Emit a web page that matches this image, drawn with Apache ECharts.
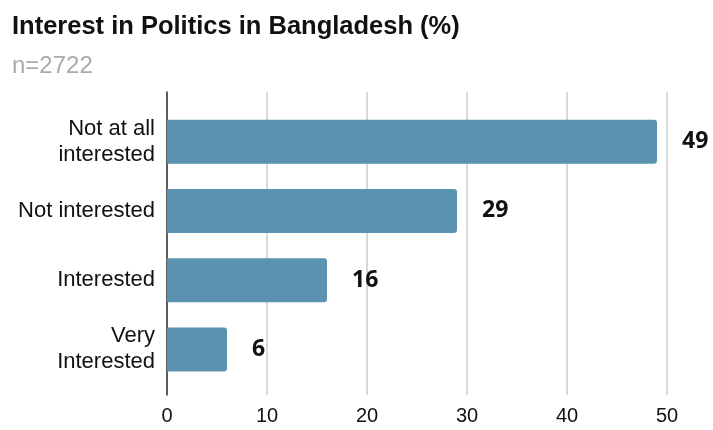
<!DOCTYPE html>
<html>
<head>
<meta charset="utf-8">
<script src="https://cdn.jsdelivr.net/npm/echarts@6/dist/echarts.min.js"></script>
<style>
  html, body { margin: 0; padding: 0; background: #fff; }
  #chart { width: 713px; height: 430px; }
</style>
</head>
<body>
<div id="chart"></div>
<script>
var categories = ['Not at all\ninterested', 'Not interested', 'Interested', 'Very\nInterested'];
var values = [49, 29, 16, 6];
var xTicks = [0, 10, 20, 30, 40, 50];

var chart = echarts.init(document.getElementById('chart'), null, {renderer: 'canvas'});

var option = {
    backgroundColor: '#fff',
    animation: false,
    title: {
        text: 'Interest in Politics in Bangladesh (%)',
        subtext: 'n=2722',
        left: 7,
        top: 9,
        itemGap: 14,
        textStyle: {
            fontFamily: 'Liberation Sans',
            fontWeight: 'bold',
            fontSize: 25.5,
            color: '#111'
        },
        subtextStyle: {
            fontFamily: 'Liberation Sans',
            fontSize: 24,
            color: '#aaa'
        }
    },
    grid: [
        // frame grid: gridlines and x labels, taller than the bar grid
        {left: 167, width: 500, top: 92, height: 303},
        // bar grid
        {left: 167, width: 500, top: 107, height: 277}
    ],
    xAxis: [{
        gridIndex: 0,
        type: 'value',
        min: xTicks[0],
        max: xTicks[xTicks.length - 1],
        interval: 10,
        axisLine: {show: false},
        axisTick: {show: false},
        axisLabel: {
            margin: 11,
            fontFamily: 'Liberation Sans',
            fontSize: 20,
            color: '#111'
        },
        splitLine: {lineStyle: {color: '#cccccc', width: 1.5}}
    }, {
        gridIndex: 1,
        type: 'value',
        min: 0,
        max: 50,
        show: false
    }],
    yAxis: [{
        gridIndex: 0,
        type: 'value',
        min: 0,
        max: 1,
        axisLine: {show: true, lineStyle: {color: '#333', width: 1.5}},
        axisTick: {show: false},
        axisLabel: {show: false},
        splitLine: {show: false}
    }, {
        gridIndex: 1,
        type: 'category',
        inverse: true,
        data: categories,
        axisLine: {show: false},
        axisTick: {show: false},
        axisLabel: {
            margin: 12,
            fontFamily: 'Liberation Sans',
            fontSize: 22,
            lineHeight: 26,
            color: '#111',
            align: 'right'
        }
    }],
    series: [{
        type: 'bar',
        xAxisIndex: 1,
        yAxisIndex: 1,
        data: values,
        barWidth: 44,
        itemStyle: {
            color: '#5a92b0',
            borderRadius: [0, 3, 3, 0]
        },
        label: {
            show: true,
            position: 'right',
            distance: 25,
            fontFamily: 'Open Sans',
            fontWeight: 'bold',
            fontSize: 23,
            color: '#111'
        }
    }]
};

chart.setOption(option);
</script>
</body>
</html>
